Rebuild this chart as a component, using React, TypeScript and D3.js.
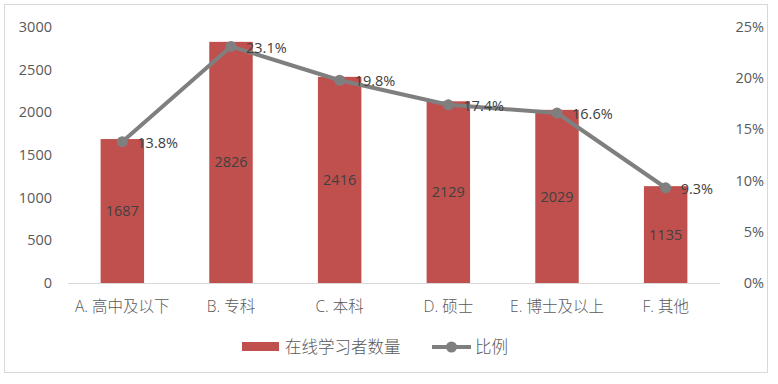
import React from "react";
import * as d3 from "d3";

const categories = ["A. 高中及以下", "B. 专科", "C. 本科", "D. 硕士", "E. 博士及以上", "F. 其他"];
const counts = [1687, 2826, 2416, 2129, 2029, 1135];
const ratios = [0.138, 0.231, 0.198, 0.174, 0.166, 0.093];
const leftTicks = [0, 500, 1000, 1500, 2000, 2500, 3000];
const rightTicks = [0, 0.05, 0.1, 0.15, 0.2, 0.25];
const seriesNames = ["在线学习者数量", "比例"];

const W = 778, H = 384;
const plot = { left: 68, right: 720, top: 27, bottom: 283 };
const BAR = "#c0504d";
const LINE = "#7f7f7f";
const TXT = "#595959";
const FONT = "'Open Sans', 'Noto Sans CJK SC', sans-serif";
const CJK = "'Noto Sans CJK SC', sans-serif";

export default function App() {
  const x = d3.scaleBand<string>().domain(categories).range([plot.left, plot.right]).paddingInner(0.6).paddingOuter(0.3);
  const yL = d3.scaleLinear().domain([0, 3000]).range([plot.bottom, plot.top]);
  const yR = d3.scaleLinear().domain([0, 0.25]).range([plot.bottom, plot.top]);
  const cx = (c: string) => (x(c) as number) + x.bandwidth() / 2;
  const line = d3.line<number>().x((_, i) => cx(categories[i])).y((d) => yR(d));
  const fmt = d3.format(".1%");

  return (
    <svg width={W} height={H} style={{ position: "absolute", left: 0, top: 0 }}>
      <rect x={0} y={0} width={W} height={H} fill="#fff" />
      <rect x={4.5} y={4.5} width={763} height={368} fill="#fff" stroke="#d9d9d9" />
      {/* left axis */}
      {leftTicks.map((t) => (
        <text key={"l" + t} x={52} y={yL(t)} dy="0.35em" textAnchor="end" fontFamily={FONT} fontSize={14.5} fill={TXT}>
          {t}
        </text>
      ))}
      {rightTicks.map((t) => (
        <text key={"r" + t} x={764} y={yR(t)} dy="0.35em" textAnchor="end" fontFamily={FONT} fontSize={14.5} fill={TXT}>
          {d3.format(".0%")(t)}
        </text>
      ))}
      {/* bars */}
      {counts.map((v, i) => (
        <rect key={"b" + i} x={x(categories[i])} y={yL(v)} width={x.bandwidth()} height={yL(0) - yL(v)} fill={BAR} />
      ))}
      <line x1={plot.left} x2={plot.right} y1={plot.bottom + 0.5} y2={plot.bottom + 0.5} stroke="#d9d9d9" strokeWidth={1} />
      {counts.map((v, i) => (
        <text key={"bl" + i} x={cx(categories[i])} y={(yL(v) + yL(0)) / 2} dy="0.35em" textAnchor="middle" fontFamily={FONT} fontSize={14.5} fill="#404040">
          {v}
        </text>
      ))}
      {/* line */}
      <path d={line(ratios) || ""} fill="none" stroke={LINE} strokeWidth={4} strokeLinejoin="round" />
      {ratios.map((r, i) => (
        <circle key={"c" + i} cx={cx(categories[i])} cy={yR(r)} r={5.5} fill={LINE} />
      ))}
      {ratios.map((r, i) => (
        <text key={"rl" + i} x={cx(categories[i]) + 15} y={yR(r) + 1} dy="0.35em" textAnchor="start" fontFamily={FONT} fontSize={14.5} fill="#404040">
          {fmt(r)}
        </text>
      ))}
      {/* category labels */}
      {categories.map((c) => (
        <text key={"x" + c} x={cx(c)} y={307} dy="0.35em" textAnchor="middle" fontFamily={FONT} fontSize={15.5} fontWeight={300} fill={TXT}>
          {c}
        </text>
      ))}
      {/* legend */}
      <rect x={242} y={342} width={37} height={9} fill={BAR} />
      <text x={285} y={347} dy="0.35em" fontFamily={CJK} fontSize={16.5} fontWeight={300} fill={TXT}>{seriesNames[0]}</text>
      <line x1={432} x2={471} y1={347} y2={347} stroke={LINE} strokeWidth={4} />
      <circle cx={451.5} cy={347} r={5.5} fill={LINE} />
      <text x={475} y={347} dy="0.35em" fontFamily={CJK} fontSize={16.5} fontWeight={300} fill={TXT}>{seriesNames[1]}</text>
    </svg>
  );
}
